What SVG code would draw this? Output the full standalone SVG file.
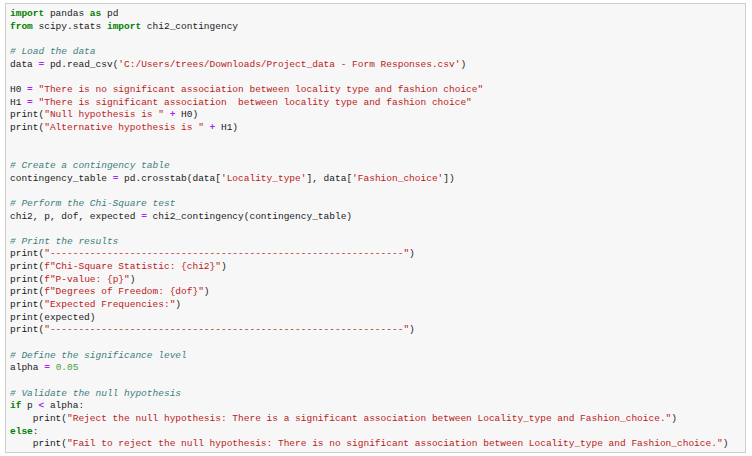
<svg xmlns="http://www.w3.org/2000/svg" width="752" height="456" viewBox="0 0 752 456">
<style>
text{font-family:"Liberation Mono","DejaVu Sans Mono",monospace;font-size:9.5px;fill:#212121;white-space:pre}
.k{fill:#008000;font-weight:bold}
.s{fill:#BA2121}
.c{fill:#3D7F7F;font-style:italic}
.o{fill:#AA22FF;font-weight:bold}
.n{fill:#3F9F3F}
</style>
<rect x="0" y="0" width="752" height="456" fill="#ffffff"/>
<rect x="5.5" y="3.5" width="740" height="449" fill="#f7f7f7" stroke="#cfcfcf"/>
<g id="code" xml:space="preserve">
<text x="10" y="16"><tspan class="k">import</tspan> pandas <tspan class="k">as</tspan> pd</text>
<text x="10" y="28.7"><tspan class="k">from</tspan> scipy.stats <tspan class="k">import</tspan> chi2_contingency</text>
<text x="10" y="54"><tspan class="c"># Load the data</tspan></text>
<text x="10" y="66.6">data <tspan class="o">=</tspan> pd.read_csv(<tspan class="s">'C:/Users/trees/Downloads/Project_data - Form Responses.csv'</tspan>)</text>
<text x="10" y="91.9">H0 <tspan class="o">=</tspan> <tspan class="s">"There is no significant association between locality type and fashion choice"</tspan></text>
<text x="10" y="104.6">H1 <tspan class="o">=</tspan> <tspan class="s">"There is significant association  between locality type and fashion choice"</tspan></text>
<text x="10" y="117.2">print(<tspan class="s">"Null hypothesis is "</tspan> <tspan class="o">+</tspan> H0)</text>
<text x="10" y="129.9">print(<tspan class="s">"Alternative hypothesis is "</tspan> <tspan class="o">+</tspan> H1)</text>
<text x="10" y="167.8"><tspan class="c"># Create a contingency table</tspan></text>
<text x="10" y="180.5">contingency_table <tspan class="o">=</tspan> pd.crosstab(data[<tspan class="s">'Locality_type'</tspan>], data[<tspan class="s">'Fashion_choice'</tspan>])</text>
<text x="10" y="205.8"><tspan class="c"># Perform the Chi-Square test</tspan></text>
<text x="10" y="218.5">chi2, p, dof, expected <tspan class="o">=</tspan> chi2_contingency(contingency_table)</text>
<text x="10" y="243.8"><tspan class="c"># Print the results</tspan></text>
<text x="10" y="256.4">print(<tspan class="s">"--------------------------------------------------------------"</tspan>)</text>
<text x="10" y="269.1">print(<tspan class="s">f"Chi-Square Statistic: {chi2}"</tspan>)</text>
<text x="10" y="281.7">print(<tspan class="s">f"P-value: {p}"</tspan>)</text>
<text x="10" y="294.4">print(<tspan class="s">f"Degrees of Freedom: {dof}"</tspan>)</text>
<text x="10" y="307">print(<tspan class="s">"Expected Frequencies:"</tspan>)</text>
<text x="10" y="319.7">print(expected)</text>
<text x="10" y="332.3">print(<tspan class="s">"--------------------------------------------------------------"</tspan>)</text>
<text x="10" y="357.6"><tspan class="c"># Define the significance level</tspan></text>
<text x="10" y="370.3">alpha <tspan class="o">=</tspan> <tspan class="n">0.05</tspan></text>
<text x="10" y="395.6"><tspan class="c"># Validate the null hypothesis</tspan></text>
<text x="10" y="408.2"><tspan class="k">if</tspan> p <tspan class="o">&lt;</tspan> alpha:</text>
<text x="10" y="420.9">    print(<tspan class="s">"Reject the null hypothesis: There is a significant association between Locality_type and Fashion_choice."</tspan>)</text>
<text x="10" y="433.5"><tspan class="k">else</tspan>:</text>
<text x="10" y="446.2">    print(<tspan class="s">"Fail to reject the null hypothesis: There is no significant association between Locality_type and Fashion_choice."</tspan>)</text>
</g>
</svg>
